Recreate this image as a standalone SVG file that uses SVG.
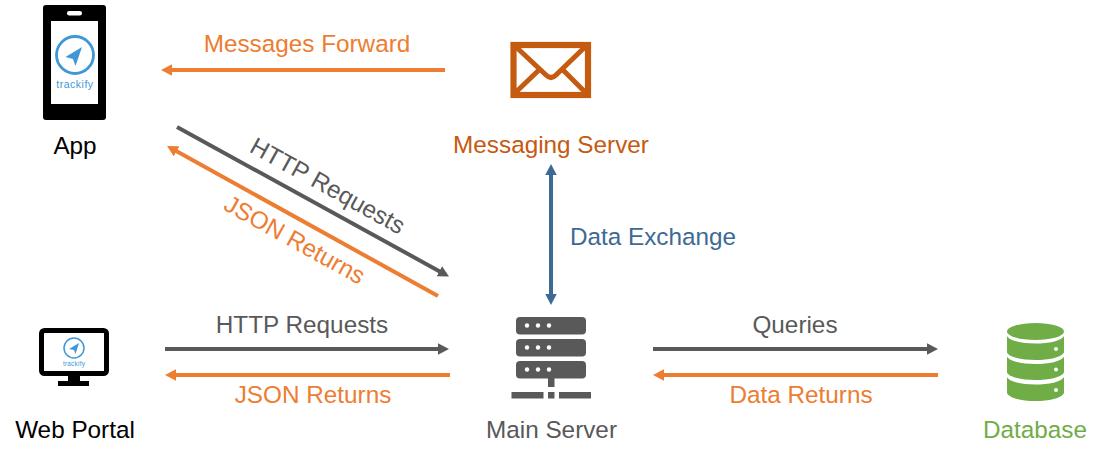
<svg xmlns="http://www.w3.org/2000/svg" width="1116" height="459" viewBox="0 0 1116 459">
<style>
text{font-family:"Liberation Sans",Arial,sans-serif;font-size:24.3px;text-anchor:middle}
.k{fill:#000}.g{fill:#595959}.o{fill:#ed7d31}.r{fill:#c55a11}.b{fill:#3d6a94}.gr{fill:#70ad47}
.t{fill:#3f97d5;letter-spacing:.5px}
.cg{stroke:#595959;stroke-width:4;fill:none}.co{stroke:#ed7d31;stroke-width:4;fill:none}.cb{stroke:#3d6a94;stroke-width:4;fill:none}
</style>
<defs>
<marker id="ag" viewBox="0 0 11 11.500" refX="1" refY="5.750" markerWidth="2.750" markerHeight="2.875" markerUnits="strokeWidth" orient="auto-start-reverse"><path d="M0 0L11 5.750L0 11.500Z" fill="#595959"/></marker>
<marker id="ao" viewBox="0 0 11 11.500" refX="1" refY="5.750" markerWidth="2.750" markerHeight="2.875" markerUnits="strokeWidth" orient="auto-start-reverse"><path d="M0 0L11 5.750L0 11.500Z" fill="#ed7d31"/></marker>
<marker id="ab" viewBox="0 0 11 11.500" refX="1" refY="5.750" markerWidth="2.750" markerHeight="2.875" markerUnits="strokeWidth" orient="auto-start-reverse"><path d="M0 0L11 5.750L0 11.500Z" fill="#3d6a94"/></marker>
</defs>
<g id="connectors">
<path class="co" d="M445 70H171" marker-end="url(#ao)"/>
<path class="cg" d="M177 127L440.200 271.700" marker-end="url(#ag)"/>
<path class="co" d="M438 296L175.750 150.840" marker-end="url(#ao)"/>
<path class="cb" d="M551 174V295" marker-start="url(#ab)" marker-end="url(#ab)"/>
<path class="cg" d="M165 349H439" marker-end="url(#ag)"/>
<path class="co" d="M450 375H175" marker-end="url(#ao)"/>
<path class="cg" d="M653 349H928" marker-end="url(#ag)"/>
<path class="co" d="M938 375H663" marker-end="url(#ao)"/>
</g>
<g id="connector-labels">
<text class="o" x="307" y="52">Messages Forward</text>
<text class="g" transform="translate(327.500 186) rotate(29)" x="0" y="8">HTTP Requests</text>
<text class="o" transform="translate(294.500 240) rotate(29)" x="0" y="8">JSON Returns</text>
<text class="b" x="653" y="245">Data Exchange</text>
<text class="g" x="302" y="333">HTTP Requests</text>
<text class="o" x="313" y="403">JSON Returns</text>
<text class="g" x="795" y="333">Queries</text>
<text class="o" x="801" y="403">Data Returns</text>
</g>
<g id="app">
<rect x="43" y="5" width="63" height="115" rx="3" fill="#000"/>
<rect x="51" y="21" width="47" height="83" fill="#fff"/>
<rect x="67" y="11" width="15" height="4.500" rx="2.200" fill="#fff"/>
<circle cx="75" cy="55" r="18.500" fill="none" stroke="#3f97d5" stroke-width="2.800"/>
<path d="M65.500 57L82 47L75.500 66L73 59Z" fill="#3f97d5"/>
<text class="t" x="75" y="88" style="font-size:10.500px">trackify</text>
<text class="k" x="75" y="154">App</text>
</g>
<g id="web-portal">
<rect x="41.500" y="330.500" width="65" height="43" rx="3" fill="#fff" stroke="#000" stroke-width="5"/>
<rect x="68" y="376" width="12" height="6" fill="#000"/>
<rect x="58" y="381" width="31" height="5" fill="#000"/>
<circle cx="74" cy="348" r="10" fill="none" stroke="#3f97d5" stroke-width="1.500"/>
<path d="M69 349L79 343L75.500 354L74 350Z" fill="#3f97d5"/>
<text class="t" x="74" y="366" style="font-size:6.500px;letter-spacing:.2px">trackify</text>
<text class="k" x="75" y="438">Web Portal</text>
</g>
<g id="messaging-server">
<rect x="513.500" y="45" width="74.500" height="50" fill="none" stroke="#c55a11" stroke-width="6.200"/>
<path d="M515 46L546 75Q551 80 556 75L586 46M515 93L540 69M586 93L562 69" fill="none" stroke="#c55a11" stroke-width="5"/>
<text class="r" x="551" y="153">Messaging Server</text>
</g>
<g id="main-server">
<rect x="516" y="317" width="70" height="17.500" rx="4" fill="#595959"/>
<rect x="516" y="339" width="70" height="17.500" rx="4" fill="#595959"/>
<rect x="516" y="361" width="70" height="17.500" rx="4" fill="#595959"/>
<g fill="#fff">
<circle cx="527" cy="325.500" r="2.200"/><circle cx="538" cy="325.500" r="2.200"/><circle cx="549" cy="325.500" r="2.200"/>
<circle cx="527" cy="347.500" r="2.200"/><circle cx="538" cy="347.500" r="2.200"/><circle cx="549" cy="347.500" r="2.200"/>
<circle cx="527" cy="369.500" r="2.200"/><circle cx="538" cy="369.500" r="2.200"/><circle cx="549" cy="369.500" r="2.200"/>
</g>
<rect x="548" y="378" width="6.500" height="9" fill="#595959"/>
<rect x="511.500" y="392" width="32" height="6.500" fill="#595959"/>
<rect x="548" y="392" width="6.500" height="6.500" fill="#595959"/>
<rect x="559" y="392" width="32" height="6.500" fill="#595959"/>
<text class="g" x="551.500" y="438">Main Server</text>
</g>
<g id="database">
<ellipse cx="1035.500" cy="331.500" rx="28.500" ry="8.500" fill="#70ad47"/>
<path d="M1007 336C1012 346 1059 346 1064 336V352.500C1059 362.500 1012 362.500 1007 352.500Z" fill="#70ad47"/>
<path d="M1007 356.500C1012 366.500 1059 366.500 1064 356.500V372.500C1059 382.500 1012 382.500 1007 372.500Z" fill="#70ad47"/>
<path d="M1007 377C1012 387 1059 387 1064 377V393C1059 403.700 1012 403.700 1007 393Z" fill="#70ad47"/>
<circle cx="1056" cy="349" r="2" fill="#fff"/><circle cx="1056" cy="369.500" r="2" fill="#fff"/><circle cx="1056" cy="390" r="2" fill="#fff"/>
<text class="gr" x="1035" y="438">Database</text>
</g>
</svg>
